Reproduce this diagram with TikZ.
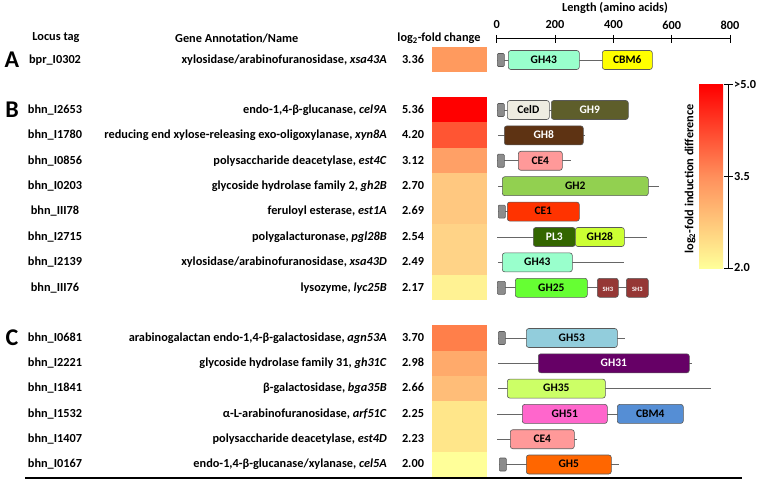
\documentclass[tikz,border=0pt]{standalone}
\usepackage{fontspec}
\setmainfont{Carlito}
\usepackage{tikz}
% fold change colours
\definecolor{fcA}{HTML}{FF9A5E}
\definecolor{fcRot}{HTML}{FF0000}
\definecolor{fcZinnober}{HTML}{FF5533}
\definecolor{fcLachs}{HTML}{FFA066}
\definecolor{fcApricot}{HTML}{FFC880}
\definecolor{fcSand}{HTML}{FFD387}
\definecolor{fcHellgelb}{HTML}{FFF293}
\definecolor{fcKoralle}{HTML}{FF7F4A}
\definecolor{fcPfirsich}{HTML}{FFAA6B}
\definecolor{fcMelone}{HTML}{FFBD78}
\definecolor{fcStroh}{HTML}{FFE68A}
\definecolor{fcZitrone}{HTML}{FFFF99}
\definecolor{cbMitte}{HTML}{FF8F5C}
% domain colours
\definecolor{sigGrau}{HTML}{8C8C8C}
\definecolor{gh43}{HTML}{99FFCC}
\definecolor{cbm6}{HTML}{FFFF00}
\definecolor{celD}{HTML}{EEECE1}
\definecolor{gh9}{HTML}{5E5E2B}
\definecolor{gh8}{HTML}{5E3313}
\definecolor{ce4}{HTML}{FF9999}
\definecolor{gh2}{HTML}{92D050}
\definecolor{ce1}{HTML}{FF3300}
\definecolor{pl3}{HTML}{336600}
\definecolor{gh28}{HTML}{CCFF33}
\definecolor{gh25}{HTML}{66FF33}
\definecolor{sh3}{HTML}{953735}
\definecolor{gh53}{HTML}{92CDDC}
\definecolor{gh31}{HTML}{660066}
\definecolor{gh35}{HTML}{CCFF66}
\definecolor{gh51}{HTML}{FF66CC}
\definecolor{cbm4}{HTML}{558ED5}
\definecolor{gh5}{HTML}{FF6600}

\begin{document}
\begin{tikzpicture}[x=1pt, y=-1pt,
  every node/.style={font=\fontsize{12.3}{14}\selectfont\bfseries, inner sep=0pt},
  txt/.style={text height=8.4pt, text depth=1.8pt},
  tag/.style={txt},
  annot/.style={txt, anchor=east},
  fcbox/.style={minimum width=55pt, minimum height=25.4pt},
  dom/.style={draw=black!65, line width=0.6pt, rounded corners=2.5pt, minimum height=19pt,
    anchor=west, txt, font=\fontsize{11.5}{13}\selectfont\bfseries},
  sig/.style={draw=black!65, line width=0.6pt, fill=sigGrau, rounded corners=1pt,
    minimum width=7pt, minimum height=13pt, anchor=west},
  shbox/.style={dom, fill=sh3, text=white, font=\fontsize{6.5}{7}\selectfont\bfseries},
  backbone/.style={draw=black!60, line width=0.8pt},
  panel/.style={font=\fontsize{24}{24}\selectfont\bfseries}]
\useasboundingbox (0,0) rectangle (760,481);

% Column headers
\node (hTag) at (56,38) {Locus tag};
\node[anchor=west] (hName) at (175,38) {Gene Annotation/Name};
\node (hFc) at (439,38) {log\textsubscript{2}-fold change};
\node (hLen) at (615,8) {Length (amino acids)};

% Length axis
\coordinate (ax0) at (496.7,39);
\coordinate (ax800) at (730,39);
\draw[line width=1pt] (ax0) -- (ax800);
\draw[line width=1pt] (496.7,35) -- (496.7,43); \node (t0) at (496.7,25) {0};
\draw[line width=1pt] (555.0,35) -- (555.0,43); \node (t200) at (555.0,25) {200};
\draw[line width=1pt] (613.4,35) -- (613.4,43); \node (t400) at (613.4,25) {400};
\draw[line width=1pt] (671.7,35) -- (671.7,43); \node (t600) at (671.7,25) {600};
\draw[line width=1pt] (730.0,35) -- (730.0,43); \node (t800) at (730.0,25) {800};

% Panel letters
\node[panel] (pA) at (12,60) {A};
\node[panel] (pB) at (12,110) {B};
\node[panel] (pC) at (12,338) {C};

% A
\node[tag] (a1-tag) at (55,60) {bpr\_I0302};
\node[annot] (a1-name) at (387,60) {xylosidase/arabinofuranosidase, \textit{xsa43A}};
\node[txt] (a1-val) at (413,60) {3.36};
\node[fcbox, fill=fcA] (a1-fc) at (459.5,59.5) {};
\coordinate (a1-s) at (497,60); \coordinate (a1-e) at (652,60);
\draw[backbone] (a1-s) -- (a1-e);
\node[sig] (a1-sig) at (497,60) {};
\node[dom, fill=gh43, minimum width=71pt] (a1-d1) at (508,60) {GH43};
\node[dom, fill=cbm6, minimum width=50pt] (a1-d2) at (602,60) {CBM6};

% B
\node[tag] (b1-tag) at (55,110) {bhn\_I2653};
\node[tag] (b2-tag) at (55,135.4) {bhn\_I1780};
\node[tag] (b3-tag) at (55,160.8) {bhn\_I0856};
\node[tag] (b4-tag) at (55,186.2) {bhn\_I0203};
\node[tag] (b5-tag) at (55,211.6) {bhn\_III78};
\node[tag] (b6-tag) at (55,237) {bhn\_I2715};
\node[tag] (b7-tag) at (55,262.4) {bhn\_I2139};
\node[tag] (b8-tag) at (55,287.8) {bhn\_III76};

\node[annot] (b1-name) at (387,110) {endo-1,4-β-glucanase, \textit{cel9A}};
\node[annot] (b2-name) at (387,135.4) {reducing end xylose-releasing exo-oligoxylanase, \textit{xyn8A}};
\node[annot] (b3-name) at (387,160.8) {polysaccharide deacetylase, \textit{est4C}};
\node[annot] (b4-name) at (387,186.2) {glycoside hydrolase family 2, \textit{gh2B}};
\node[annot] (b5-name) at (387,211.6) {feruloyl esterase, \textit{est1A}};
\node[annot] (b6-name) at (387,237) {polygalacturonase, \textit{pgl28B}};
\node[annot] (b7-name) at (387,262.4) {xylosidase/arabinofuranosidase, \textit{xsa43D}};
\node[annot] (b8-name) at (387,287.8) {lysozyme, \textit{lyc25B}};

\node[txt] (b1-val) at (413,110) {5.36};
\node[txt] (b2-val) at (413,135.4) {4.20};
\node[txt] (b3-val) at (413,160.8) {3.12};
\node[txt] (b4-val) at (413,186.2) {2.70};
\node[txt] (b5-val) at (413,211.6) {2.69};
\node[txt] (b6-val) at (413,237) {2.54};
\node[txt] (b7-val) at (413,262.4) {2.49};
\node[txt] (b8-val) at (413,287.8) {2.17};

\node[fcbox, fill=fcRot] (b1-fc) at (459.5,109.7) {};
\node[fcbox, fill=fcZinnober] (b2-fc) at (459.5,135.1) {};
\node[fcbox, fill=fcLachs] (b3-fc) at (459.5,160.5) {};
\node[fcbox, fill=fcApricot] (b4-fc) at (459.5,185.9) {};
\node[fcbox, fill=fcApricot] (b5-fc) at (459.5,211.3) {};
\node[fcbox, fill=fcSand] (b6-fc) at (459.5,236.7) {};
\node[fcbox, fill=fcSand] (b7-fc) at (459.5,262.1) {};
\node[fcbox, fill=fcHellgelb] (b8-fc) at (459.5,287.5) {};

% B domains
\coordinate (b1-s) at (497,110); \coordinate (b1-e) at (628,110);
\draw[backbone] (b1-s) -- (b1-e);
\node[sig] (b1-sig) at (497,110) {};
\node[dom, fill=celD, minimum width=42pt] (b1-d1) at (507,110) {CelD};
\node[dom, fill=gh9, text=white, minimum width=77pt] (b1-d2) at (551,110) {GH9};

\coordinate (b2-s) at (498,135.4); \coordinate (b2-e) at (585,135.4);
\draw[backbone] (b2-s) -- (b2-e);
\node[dom, fill=gh8, text=white, minimum width=79pt] (b2-d1) at (504,135.4) {GH8};

\coordinate (b3-s) at (497,160.8); \coordinate (b3-e) at (571,160.8);
\draw[backbone] (b3-s) -- (b3-e);
\node[sig] (b3-sig) at (497,160.8) {};
\node[dom, fill=ce4, minimum width=44pt] (b3-d1) at (518,160.8) {CE4};

\coordinate (b4-s) at (498,186.2); \coordinate (b4-e) at (659,186.2);
\draw[backbone] (b4-s) -- (b4-e);
\node[dom, fill=gh2, minimum width=146pt] (b4-d1) at (502,186.2) {GH2};

\coordinate (b5-s) at (498,211.6); \coordinate (b5-e) at (579,211.6);
\draw[backbone] (b5-s) -- (b5-e);
\node[sig] (b5-sig) at (498,211.6) {};
\node[dom, fill=ce1, minimum width=72pt] (b5-d1) at (507,211.6) {CE1};

\coordinate (b6-s) at (497,237); \coordinate (b6-e) at (647,237);
\draw[backbone] (b6-s) -- (b6-e);
\node[dom, fill=pl3, text=white, minimum width=42pt] (b6-d1) at (533,237) {PL3};
\node[dom, fill=gh28, minimum width=49pt] (b6-d2) at (575,237) {GH28};

\coordinate (b7-s) at (498,262.4); \coordinate (b7-e) at (624,262.4);
\draw[backbone] (b7-s) -- (b7-e);
\node[dom, fill=gh43, minimum width=70pt] (b7-d1) at (502,262.4) {GH43};

\coordinate (b8-s) at (497,287.8); \coordinate (b8-e) at (648,287.8);
\draw[backbone] (b8-s) -- (b8-e);
\node[sig, minimum width=8pt] (b8-sig) at (497,287.8) {};
\node[dom, fill=gh25, minimum width=72pt] (b8-d1) at (515,287.8) {GH25};
\node[shbox, minimum width=21pt] (b8-d2) at (597,287.8) {SH3};
\node[shbox, minimum width=22pt] (b8-d3) at (626,287.8) {SH3};

% C
\node[tag] (c1-tag) at (55,338) {bhn\_I0681};
\node[tag] (c2-tag) at (55,363.3) {bhn\_I2221};
\node[tag] (c3-tag) at (55,388.6) {bhn\_I1841};
\node[tag] (c4-tag) at (55,413.9) {bhn\_I1532};
\node[tag] (c5-tag) at (55,439.2) {bhn\_I1407};
\node[tag] (c6-tag) at (55,464.5) {bhn\_I0167};

\node[annot] (c1-name) at (387,338) {arabinogalactan endo-1,4-β-galactosidase, \textit{agn53A}};
\node[annot] (c2-name) at (387,363.3) {glycoside hydrolase family 31, \textit{gh31C}};
\node[annot] (c3-name) at (387,388.6) {β-galactosidase, \textit{bga35B}};
\node[annot] (c4-name) at (387,413.9) {α-L-arabinofuranosidase, \textit{arf51C}};
\node[annot] (c5-name) at (387,439.2) {polysaccharide deacetylase, \textit{est4D}};
\node[annot] (c6-name) at (387,464.5) {endo-1,4-β-glucanase/xylanase, \textit{cel5A}};

\node[txt] (c1-val) at (413,338) {3.70};
\node[txt] (c2-val) at (413,363.3) {2.98};
\node[txt] (c3-val) at (413,388.6) {2.66};
\node[txt] (c4-val) at (413,413.9) {2.25};
\node[txt] (c5-val) at (413,439.2) {2.23};
\node[txt] (c6-val) at (413,464.5) {2.00};

\node[fcbox, fill=fcKoralle] (c1-fc) at (459.5,338) {};
\node[fcbox, fill=fcPfirsich] (c2-fc) at (459.5,363.3) {};
\node[fcbox, fill=fcMelone] (c3-fc) at (459.5,388.6) {};
\node[fcbox, fill=fcStroh] (c4-fc) at (459.5,413.9) {};
\node[fcbox, fill=fcStroh] (c5-fc) at (459.5,439.2) {};
\node[fcbox, fill=fcZitrone] (c6-fc) at (459.5,464.5) {};

% C domains
\coordinate (c1-s) at (498,338); \coordinate (c1-e) at (625,338);
\draw[backbone] (c1-s) -- (c1-e);
\node[sig] (c1-sig) at (498,338) {};
\node[dom, fill=gh53, minimum width=91pt] (c1-d1) at (526,338) {GH53};

\coordinate (c2-s) at (498,363.3); \coordinate (c2-e) at (692,363.3);
\draw[backbone] (c2-s) -- (c2-e);
\node[dom, fill=gh31, text=white, minimum width=151pt] (c2-d1) at (538,363.3) {GH31};

\coordinate (c3-s) at (498,388.6); \coordinate (c3-e) at (711,388.6);
\draw[backbone] (c3-s) -- (c3-e);
\node[dom, fill=gh35, minimum width=98pt] (c3-d1) at (507,388.6) {GH35};

\coordinate (c4-s) at (497,413.9); \coordinate (c4-e) at (683,413.9);
\draw[backbone] (c4-s) -- (c4-e);
\node[dom, fill=gh51, minimum width=85pt] (c4-d1) at (522,413.9) {GH51};
\node[dom, fill=cbm4, minimum width=66pt] (c4-d2) at (617,413.9) {CBM4};

\coordinate (c5-s) at (497,439.2); \coordinate (c5-e) at (577,439.2);
\draw[backbone] (c5-s) -- (c5-e);
\node[dom, fill=ce4, minimum width=64pt] (c5-d1) at (510,439.2) {CE4};

\coordinate (c6-s) at (499,464.5); \coordinate (c6-e) at (619,464.5);
\draw[backbone] (c6-s) -- (c6-e);
\node[sig] (c6-sig) at (499,464.5) {};
\node[dom, fill=gh5, minimum width=85pt] (c6-d1) at (526,464.5) {GH5};

% Bottom rule
\coordinate (rule-l) at (25,478); \coordinate (rule-r) at (742,478);
\draw[line width=2pt] (rule-l) -- (rule-r);

% Colour bar
\node[minimum width=24pt, minimum height=183pt, top color=fcRot, bottom color=fcZitrone,
  middle color=cbMitte] (cbar) at (711,176.5) {};
\coordinate (cb-hi) at (728,85); \coordinate (cb-lo) at (728,268);
\draw[line width=1pt] (cb-hi) -- (cb-lo);
\draw[line width=1pt] (724,85) -- (733,85); \node[anchor=west] (cb50) at (734,85) {>5.0};
\draw[line width=1pt] (724,176.5) -- (733,176.5); \node[anchor=west] (cb35) at (734,176.5) {3.5};
\draw[line width=1pt] (724,268) -- (733,268); \node[anchor=west] (cb20) at (734,268) {2.0};
\node[rotate=90] (cbLabel) at (690,179) {log\textsubscript{2}-fold induction difference};
\end{tikzpicture}
\end{document}
